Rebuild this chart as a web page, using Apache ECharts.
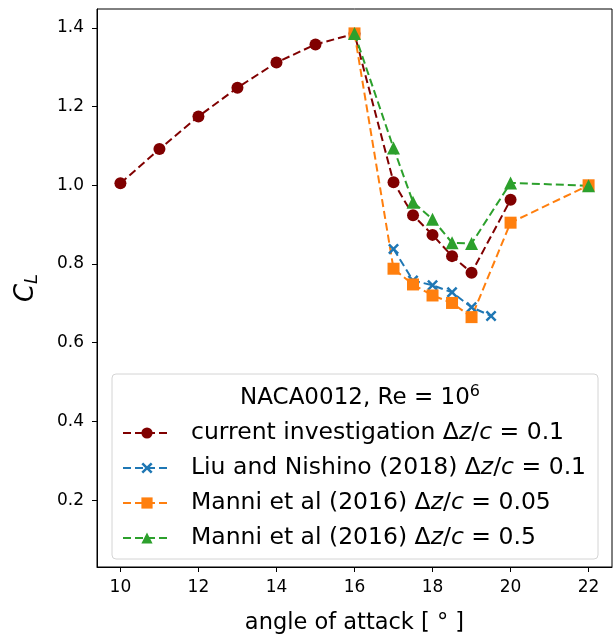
<!DOCTYPE html>
<html>
<head>
<meta charset="utf-8">
<script src="https://cdn.jsdelivr.net/npm/echarts@6/dist/echarts.min.js"></script>
<style>
  html, body { margin: 0; padding: 0; background: #fff; }
  #chart { width: 613px; height: 640px; }
</style>
</head>
<body>
<div id="chart"></div>
<script>
// angle of attack (deg) and lift coefficient for each data set
const aoaCurrent = [10, 11, 12, 13, 14, 15, 16, 17, 17.5, 18, 18.5, 19, 20];
const clCurrent = [1.005, 1.092, 1.175, 1.248, 1.312, 1.358, 1.385, 1.008, 0.924, 0.874, 0.82, 0.778, 0.963];

const aoaLiu = [17, 17.5, 18, 18.5, 19, 19.5];
const clLiu = [0.838, 0.758, 0.746, 0.728, 0.69, 0.668];

const aoaManni005 = [16, 17, 17.5, 18, 18.5, 19, 20, 22];
const clManni005 = [1.386, 0.788, 0.748, 0.72, 0.701, 0.665, 0.905, 1.0];

const aoaManni05 = [16, 17, 17.5, 18, 18.5, 19, 20, 22];
const clManni05 = [1.386, 1.095, 0.957, 0.914, 0.854, 0.852, 1.006, 0.999];

const xTicks = [10, 12, 14, 16, 18, 20, 22];
const yTicks = [0.2, 0.4, 0.6, 0.8, 1.0, 1.2, 1.4];

const names = [
    'current investigation Δ{i|z}/{i|c} = 0.1',
    'Liu and Nishino (2018) Δ{i|z}/{i|c} = 0.1',
    'Manni et al (2016) Δ{i|z}/{i|c} = 0.05',
    'Manni et al (2016) Δ{i|z}/{i|c} = 0.5',
];

const pairs = (xs, ys) => xs.map((x, i) => [x, ys[i]]);

const crossPath = 'path://M0,1.6L1.6,0L5,3.4L8.4,0L10,1.6L6.6,5L10,8.4L8.4,10L5,6.6L1.6,10L0,8.4L3.4,5Z';

const mkSeries = (name, data, color, symbol, size) => ({
    name: name,
    type: 'line',
    data: data,
    symbol: symbol,
    symbolSize: size,
    showSymbol: true,
    animation: false,
    lineStyle: { color: color, width: 2, type: [8, 4] },
    itemStyle: { color: color },
    emphasis: { disabled: true },
});

const font = 'DejaVu Sans';

const chart = echarts.init(document.getElementById('chart'));
chart.setOption({
    animation: false,
    grid: {
        left: 97,
        right: 1,
        top: 9,
        bottom: 67,
        show: true,
        borderColor: '#000',
        borderWidth: 1,
    },
    title: {
        text: 'NACA0012, Re = 10{s|6}',
        left: 355,
        top: 379,
        textAlign: 'center',
        textStyle: {
            fontFamily: font,
            fontSize: 23,
            fontWeight: 'normal',
            color: '#000',
            rich: {
                s: { fontFamily: font, fontSize: 16, verticalAlign: 'top', padding: [0, 0, 12, 0], color: '#000' },
            },
        },
    },
    graphic: [
        {
            type: 'rect',
            shape: { x: 112, y: 374, width: 486, height: 185, r: 4 },
            style: { fill: 'rgba(255,255,255,0.8)', stroke: '#d4d4d4', lineWidth: 1 },
            z: 0,
        },
    ],
    legend: {
        orient: 'vertical',
        left: 117,
        top: 415,
        itemWidth: 48,
        itemHeight: 14,
        itemGap: 9,
        selectedMode: false,
        data: names,
        textStyle: {
            fontFamily: font,
            fontSize: 23.5,
            lineHeight: 26,
            color: '#000',
            padding: [0, 0, 0, 15],
            rich: {
                i: { fontFamily: font, fontSize: 23.5, lineHeight: 26, fontStyle: 'italic', color: '#000' },
            },
        },
    },
    xAxis: {
        type: 'value',
        min: 9.4,
        max: 22.6,
        name: 'angle of attack [ ° ]',
        nameLocation: 'middle',
        nameGap: 45,
        nameTextStyle: { fontFamily: font, fontSize: 22.5, color: '#000' },
        axisLine: { show: true, lineStyle: { color: '#000' } },
        axisTick: { show: true, length: 5, customValues: xTicks, lineStyle: { color: '#000' } },
        axisLabel: { customValues: xTicks, fontFamily: font, fontSize: 17, color: '#000', margin: 12 },
        splitLine: { show: false },
    },
    yAxis: {
        type: 'value',
        min: 0.03,
        max: 1.448,
        name: '{c|C}{l|L}',
        nameLocation: 'middle',
        nameGap: 56,
        nameRotate: 90,
        nameTextStyle: {
            rich: {
                c: { fontFamily: font, fontSize: 26, fontStyle: 'italic', color: '#000', lineHeight: 30 },
                l: { fontFamily: font, fontSize: 18, fontStyle: 'italic', color: '#000', verticalAlign: 'bottom', padding: [10, 0, 0, 0], lineHeight: 30 },
            },
        },
        axisLine: { show: true, lineStyle: { color: '#000' } },
        axisTick: { show: true, length: 5, customValues: yTicks, lineStyle: { color: '#000' } },
        axisLabel: {
            customValues: yTicks,
            fontFamily: font,
            fontSize: 17,
            color: '#000',
            margin: 13,
            formatter: (v) => v.toFixed(1),
        },
        splitLine: { show: false },
    },
    series: [
        mkSeries(names[0], pairs(aoaCurrent, clCurrent), '#800000', 'circle', 12),
        mkSeries(names[1], pairs(aoaLiu, clLiu), '#1f77b4', crossPath, 11),
        mkSeries(names[2], pairs(aoaManni005, clManni005), '#ff7f0e', 'rect', 12),
        mkSeries(names[3], pairs(aoaManni05, clManni05), '#2ca02c', 'triangle', 13),
    ],
});
</script>
</body>
</html>
